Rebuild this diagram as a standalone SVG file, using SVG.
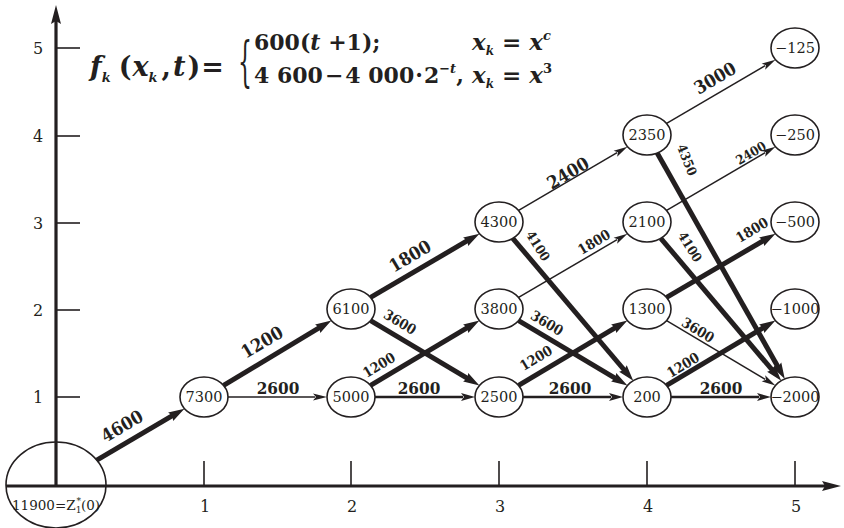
<svg xmlns="http://www.w3.org/2000/svg" width="844" height="528" viewBox="0 0 844 528">
<style>
text { font-family: "DejaVu Serif", "Liberation Serif", serif; fill: #231f20; }
.node ellipse { fill: #fff; stroke: #231f20; stroke-width: 1.6; }
.node text { font-size: 14.5px; text-anchor: middle; }
.axis { stroke: #231f20; stroke-width: 3.2; fill: none; }
.tick { stroke: #231f20; stroke-width: 1.6; }
.tl { font-size: 16px; text-anchor: middle; }
.thin { stroke: #231f20; stroke-width: 1.5; fill: none; marker-end: url(#aThin); }
.med { stroke: #231f20; stroke-width: 2.3; fill: none; marker-end: url(#aMed); }
.thick { stroke: #231f20; stroke-width: 5; fill: none; marker-end: url(#aThick); }
.lb { font-weight: bold; text-anchor: middle; font-stretch: condensed; }
.l17 { font-size: 18px; }
.l16 { font-size: 17px; }
.l13 { font-size: 14px; }
.l12 { font-size: 13px; }
.fm { font-size: 22px; font-weight: bold; }
.it { font-style: italic; }
</style>
<defs>
<marker id="aThin" markerUnits="userSpaceOnUse" orient="auto" overflow="visible" markerWidth="20" markerHeight="12">
<path d="M-2,-3.5 L12,0 L-2,3.5 L1,0 z" fill="#231f20"/>
</marker>
<marker id="aMed" markerUnits="userSpaceOnUse" orient="auto" overflow="visible" markerWidth="20" markerHeight="12">
<path d="M-2,-4 L12,0 L-2,4 L1,0 z" fill="#231f20"/>
</marker>
<marker id="aThick" markerUnits="userSpaceOnUse" orient="auto" overflow="visible" markerWidth="20" markerHeight="12">
<path d="M-4,-5 L12,0 L-4,5 L-2,0 z" fill="#231f20"/>
</marker>
</defs>

<g id="axes">
<line class="axis" x1="56" y1="486" x2="56" y2="20"/>
<path d="M56,5 L61,24 L56,21 L51,24 z" fill="#231f20"/>
<line class="axis" x1="6" y1="486" x2="826" y2="486"/>
<path d="M841,486 L822,491 L825,486 L822,481 z" fill="#231f20"/>
<line class="tick" x1="56" y1="48" x2="80" y2="48"/>
<line class="tick" x1="56" y1="136" x2="80" y2="136"/>
<line class="tick" x1="56" y1="223" x2="80" y2="223"/>
<line class="tick" x1="56" y1="310" x2="80" y2="310"/>
<line class="tick" x1="56" y1="397" x2="80" y2="397"/>
<text class="tl" x="38" y="54">5</text>
<text class="tl" x="38" y="142">4</text>
<text class="tl" x="38" y="229">3</text>
<text class="tl" x="38" y="316">2</text>
<text class="tl" x="38" y="403">1</text>
<line class="tick" x1="204" y1="461" x2="204" y2="486"/>
<line class="tick" x1="351" y1="461" x2="351" y2="486"/>
<line class="tick" x1="499" y1="461" x2="499" y2="486"/>
<line class="tick" x1="647" y1="461" x2="647" y2="486"/>
<line class="tick" x1="795" y1="461" x2="795" y2="486"/>
<text class="tl" x="205" y="512">1</text>
<text class="tl" x="352" y="512">2</text>
<text class="tl" x="500" y="512">3</text>
<text class="tl" x="648" y="512">4</text>
<text class="tl" x="796" y="512">5</text>
</g>

<g id="formula">
<text class="fm" x="90" y="76" style="font-size:27px"><tspan class="it">f</tspan><tspan class="it" style="font-size:13px" dy="6">k</tspan><tspan dy="-6" dx="8">(</tspan><tspan class="it" dx="1">x</tspan><tspan class="it" style="font-size:13px" dy="6">k</tspan><tspan dy="-6" dx="4">,</tspan><tspan class="it" dx="2">t</tspan><tspan dx="2">)</tspan><tspan dx="1">=</tspan></text>
<text class="fm" style="font-weight:normal" transform="translate(238,80) scale(1,2.5)" font-size="26">{</text>
<text class="fm" x="254" y="50">600(<tspan class="it">t</tspan> +1);</text>
<text class="fm" x="254" y="83">4 600<tspan dx="2">−</tspan><tspan dx="2">4 000</tspan><tspan dx="1">·</tspan><tspan dx="1">2</tspan><tspan style="font-size:13px" dy="-10">−<tspan class="it">t</tspan></tspan><tspan dy="10">,</tspan></text>
<text class="fm" x="472" y="50" style="font-size:23px"><tspan class="it">x</tspan><tspan class="it" style="font-size:12px" dy="5">k</tspan><tspan dy="-5"> = </tspan><tspan class="it">x</tspan><tspan class="it" style="font-size:13px" dy="-10">c</tspan></text>
<text class="fm" x="472" y="83" style="font-size:23px"><tspan class="it">x</tspan><tspan class="it" style="font-size:12px" dy="5">k</tspan><tspan dy="-5"> = </tspan><tspan class="it">x</tspan><tspan style="font-size:13px" dy="-10">3</tspan></text>
</g>

<g id="connectors">
<line class="thick" x1="96.4" y1="460.3" x2="174.1" y2="414.7"/>
<line class="thick" x1="223.6" y1="385.4" x2="321.1" y2="326.7"/>
<line class="thin" x1="228" y1="397" x2="315" y2="397"/>
<line class="thick" x1="370.6" y1="297.4" x2="469.1" y2="239.7"/>
<line class="thick" x1="370.6" y1="320.6" x2="469.1" y2="379.3"/>
<line class="thick" x1="370.6" y1="385.4" x2="469.1" y2="326.7"/>
<line class="med" x1="375" y1="397" x2="463" y2="397"/>
<line class="thin" x1="518.6" y1="210.4" x2="617.1" y2="152.7"/>
<line class="thick" x1="512.8" y1="238.3" x2="625.5" y2="371.5"/>
<line class="thin" x1="518.6" y1="297.4" x2="617.1" y2="239.7"/>
<line class="thick" x1="518.6" y1="320.6" x2="617.1" y2="379.3"/>
<line class="thick" x1="518.6" y1="385.4" x2="617.1" y2="326.7"/>
<line class="med" x1="523" y1="397" x2="611" y2="397"/>
<line class="thin" x1="666.6" y1="123.4" x2="765.1" y2="65.7"/>
<line class="thick" x1="657.2" y1="153.1" x2="778.9" y2="368.5"/>
<line class="thin" x1="666.6" y1="210.4" x2="765.1" y2="152.7"/>
<line class="thick" x1="660.8" y1="238.3" x2="773.5" y2="371.5"/>
<line class="thick" x1="666.6" y1="297.4" x2="765.1" y2="239.7"/>
<line class="thin" x1="666.6" y1="320.6" x2="765.1" y2="379.3"/>
<line class="thick" x1="666.6" y1="385.4" x2="765.1" y2="326.7"/>
<line class="med" x1="671" y1="397" x2="759" y2="397"/>
</g>

<g id="edge-labels">
<text class="lb l17" transform="translate(122,426) rotate(-30.6)" dy=".35em">4600</text>
<text class="lb l17" transform="translate(262,342) rotate(-30.6)" dy=".35em">1200</text>
<text class="lb l16" x="278" y="394">2600</text>
<text class="lb l17" transform="translate(410,256) rotate(-30.6)" dy=".35em">1800</text>
<text class="lb l13" transform="translate(400,322) rotate(30.6)" dy=".35em">3600</text>
<text class="lb l13" transform="translate(379,365) rotate(-30.6)" dy=".35em">1200</text>
<text class="lb l16" x="419" y="394">2600</text>
<text class="lb l17" transform="translate(568,173) rotate(-30.6)" dy=".35em">2400</text>
<text class="lb l12" transform="translate(538,246) rotate(58)" dy=".35em">4100</text>
<text class="lb l13" transform="translate(594,242) rotate(-30.6)" dy=".35em">1800</text>
<text class="lb l13" transform="translate(547,323) rotate(30.6)" dy=".35em">3600</text>
<text class="lb l13" transform="translate(536,358) rotate(-30.6)" dy=".35em">1200</text>
<text class="lb l16" x="570" y="394">2600</text>
<text class="lb l17" transform="translate(715,78) rotate(-30.6)" dy=".35em">3000</text>
<text class="lb l12" transform="translate(687,160) rotate(68)" dy=".35em">4350</text>
<text class="lb l12" transform="translate(751,153) rotate(-30.6)" dy=".35em">2400</text>
<text class="lb l12" transform="translate(690,247) rotate(58)" dy=".35em">4100</text>
<text class="lb l13" transform="translate(752,230) rotate(-30.6)" dy=".35em">1800</text>
<text class="lb l13" transform="translate(698,330) rotate(30.6)" dy=".35em">3600</text>
<text class="lb l13" transform="translate(683,365) rotate(-30.6)" dy=".35em">1200</text>
<text class="lb l16" x="721" y="394">2600</text>
</g>

<g id="n-start" class="node"><ellipse cx="56" cy="485" rx="50" ry="43" style="fill:none"/><text x="56" y="510" style="font-size:13.5px">11900=Z<tspan style="font-size:9px" dy="3">1</tspan><tspan style="font-size:9px" dx="-5" dy="-9">*</tspan><tspan style="font-size:13.5px" dy="6">(0)</tspan></text></g>
<g id="n-7300" class="node"><ellipse cx="204" cy="397" rx="24" ry="20"/><text x="204" y="402">7300</text></g>
<g id="n-6100" class="node"><ellipse cx="351" cy="309" rx="24" ry="20"/><text x="351" y="314">6100</text></g>
<g id="n-5000" class="node"><ellipse cx="351" cy="397" rx="24" ry="20"/><text x="351" y="402">5000</text></g>
<g id="n-4300" class="node"><ellipse cx="499" cy="222" rx="24" ry="20"/><text x="499" y="227">4300</text></g>
<g id="n-3800" class="node"><ellipse cx="499" cy="309" rx="24" ry="20"/><text x="499" y="314">3800</text></g>
<g id="n-2500" class="node"><ellipse cx="499" cy="397" rx="24" ry="20"/><text x="499" y="402">2500</text></g>
<g id="n-2350" class="node"><ellipse cx="647" cy="135" rx="24" ry="20"/><text x="647" y="140">2350</text></g>
<g id="n-2100" class="node"><ellipse cx="647" cy="222" rx="24" ry="20"/><text x="647" y="227">2100</text></g>
<g id="n-1300" class="node"><ellipse cx="647" cy="309" rx="24" ry="20"/><text x="647" y="314">1300</text></g>
<g id="n-200" class="node"><ellipse cx="647" cy="397" rx="24" ry="20"/><text x="647" y="402">200</text></g>
<g id="n-m125" class="node"><ellipse cx="795" cy="48" rx="24" ry="20"/><text x="795" y="53">−125</text></g>
<g id="n-m250" class="node"><ellipse cx="795" cy="135" rx="24" ry="20"/><text x="795" y="140">−250</text></g>
<g id="n-m500" class="node"><ellipse cx="795" cy="222" rx="24" ry="20"/><text x="795" y="227">−500</text></g>
<g id="n-m1000" class="node"><ellipse cx="795" cy="309" rx="24" ry="20"/><text x="795" y="314">−1000</text></g>
<g id="n-m2000" class="node"><ellipse cx="795" cy="397" rx="24" ry="20"/><text x="795" y="402">−2000</text></g>
</svg>
